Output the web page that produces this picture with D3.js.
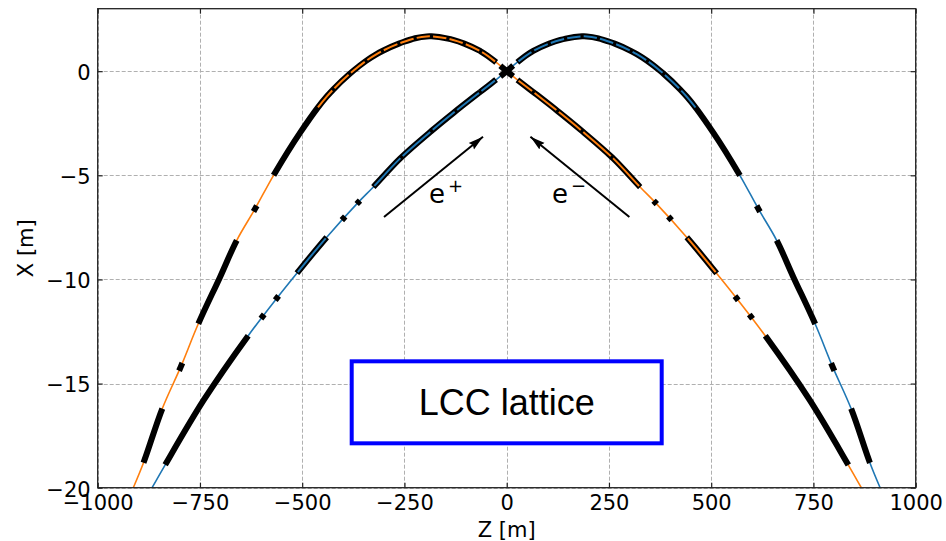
<!DOCTYPE html>
<html>
<head>
<meta charset="utf-8">
<script src="https://cdn.jsdelivr.net/npm/d3@7"></script>
<style>
body { margin: 0; background: #fff; }
svg { display: block; }
</style>
</head>
<body>
<script>
// Constants

const width = 946;
const height = 541;
const margin = { top: 8.7, right: 30.3, bottom: 53.3, left: 97.7 };
const font = "'DejaVu Sans', sans-serif";

// Beam orbits, Z [m] -> X [m]

const blueZ = [-867, -835, -741, -632, -562, -513, -440, -363, -326, -261, -187, -130, -65, -24, 0,
	24, 65, 131, 196, 253, 318, 375, 440, 505, 570, 615, 660, 701, 754, 797, 842, 888, 913];
const blueX = [-20, -18.9, -15.8, -12.7, -10.9, -9.7, -7.97, -6.3, -5.56, -4.2, -2.92, -2.0, -1.0, -0.38, 0,
	0.4, 0.97, 1.5, 1.67, 1.4, 0.82, 0.02, -1.22, -2.95, -5.0, -6.6, -8.12, -9.89, -12.13, -14.2, -16.2, -18.8, -20];

const orangeZ = [-913, -888, -842, -797, -754, -701, -660, -615, -570, -505, -440, -375, -318, -253, -196, -131, -65, -24, 0,
	24, 65, 130, 187, 261, 326, 363, 440, 513, 562, 632, 741, 835, 867];
const orangeX = [-20, -18.8, -16.2, -14.2, -12.13, -9.89, -8.12, -6.6, -5.0, -2.95, -1.22, 0.02, 0.82, 1.4, 1.67, 1.5, 0.97, 0.4, 0,
	-0.38, -1.0, -2.0, -2.92, -4.2, -5.56, -6.3, -7.97, -9.7, -10.9, -12.7, -15.8, -18.9, -20];

// Magnet extents along Z [m]

const blueSolid = [[-835, -632], [-601, -593], [-566, -558], [-403, -395], [-367, -359], [-16, 16],
	[464, 570], [611, 619], [660, 754], [793, 801], [842, 888]];
const blueCored = [[-513, -440], [-326, -257], [-257, -184], [-184, -124], [-124, -65], [-65, -26],
	[26, 64], [64, 104], [104, 144], [144, 184], [184, 224], [224, 264], [264, 304], [304, 344],
	[344, 384], [384, 424], [424, 464]];

const orangeSolid = [[-888, -842], [-801, -793], [-754, -660], [-619, -611], [-570, -464], [-16, 16],
	[359, 367], [395, 403], [558, 566], [593, 601], [632, 835]];
const orangeCored = [[-464, -424], [-424, -384], [-384, -344], [-344, -304], [-304, -264], [-264, -224],
	[-224, -184], [-184, -144], [-144, -104], [-104, -64], [-64, -26],
	[26, 65], [65, 124], [124, 184], [184, 257], [257, 326], [440, 513]];

const xTicks = [-1000, -750, -500, -250, 0, 250, 500, 750, 1000];
const yTicks = [0, -5, -10, -15, -20];

const arrowFrom = [[-300, -7], [300, -7]];
const arrowTo = [[-58, -3.15], [58, -3.15]];
const beamLabels = ['e', 'e'];
const beamSigns = ['+', '\u2212'];
const labelPos = [[-190, -6.35], [111, -6.35]];

const boxText = 'LCC lattice';
const boxPos = [0, -15.9];

const blue = '#1f77b4';
const orange = '#ff7f0e';

// Setup plot

const x = d3.scaleLinear()
	.domain([-1000, 1000])
	.range([margin.left, width - margin.right]);

const y = d3.scaleLinear()
	.domain([-20, 3])
	.range([height - margin.bottom, margin.top]);

const svg = d3.select('body')
	.append('svg')
	.attr('width', width)
	.attr('height', height)
	.attr('font-family', font);

svg.append('defs')
	.append('marker')
	.attr('id', 'head')
	.attr('markerUnits', 'userSpaceOnUse')
	.attr('markerWidth', 16)
	.attr('markerHeight', 10)
	.attr('refX', 15)
	.attr('refY', 5)
	.attr('orient', 'auto')
	.append('path')
	.attr('d', 'M0,0.8 L15,5 L0,9.2 L2,5 Z')
	.attr('fill', '#000');

// grid

const grid = svg.append('g')
	.attr('stroke', '#b0b0b0')
	.attr('stroke-width', 1)
	.attr('stroke-dasharray', '4,2');

grid.selectAll('.gx')
	.data(xTicks)
	.join('line')
	.attr('x1', (d) => Math.round(x(d)) + 0.5)
	.attr('x2', (d) => Math.round(x(d)) + 0.5)
	.attr('y1', margin.top)
	.attr('y2', height - margin.bottom);

grid.selectAll('.gy')
	.data(yTicks)
	.join('line')
	.attr('class', 'gy')
	.attr('y1', (d) => Math.round(y(d)) + 0.5)
	.attr('y2', (d) => Math.round(y(d)) + 0.5)
	.attr('x1', margin.left)
	.attr('x2', width - margin.right);

// orbits

const line = d3.line()
	.x((d) => x(d[0]))
	.y((d) => y(d[1]))
	.curve(d3.curveCatmullRom.alpha(0.5));

const rings = [
	{ pts: d3.zip(blueZ, blueX), color: blue, solid: blueSolid, cored: blueCored },
	{ pts: d3.zip(orangeZ, orangeX), color: orange, solid: orangeSolid, cored: orangeCored },
];

const orbits = svg.append('g').attr('fill', 'none');

rings.forEach((r) => {
	r.path = orbits.append('path')
		.attr('d', line(r.pts))
		.attr('stroke', r.color)
		.attr('stroke-width', 1.6)
		.node();
});

function lengthAt(path, z) {
	const target = x(z);
	let lo = 0;
	let hi = path.getTotalLength();
	for (let i = 0; i < 30; i++) {
		const mid = (lo + hi) / 2;
		if (path.getPointAtLength(mid).x < target) lo = mid;
		else hi = mid;
	}
	return lo;
}

function dashes(path, ranges, inset) {
	const total = path.getTotalLength();
	const arr = [0];
	let pos = 0;
	ranges
		.slice()
		.sort((a, b) => a[0] - b[0])
		.forEach(([z0, z1]) => {
			const a = lengthAt(path, z0) + inset;
			const b = lengthAt(path, z1) - inset;
			arr.push(Math.max(0, a - pos), Math.max(0, b - a));
			pos = b;
		});
	arr.push(total - pos + 10);
	return arr.map((v) => v.toFixed(2)).join(',');
}

const magnets = svg.append('g').attr('fill', 'none').attr('stroke-linecap', 'butt');

rings.forEach((r) => {
	const d = d3.select(r.path).attr('d');
	magnets.append('path')
		.attr('d', d)
		.attr('stroke', '#000')
		.attr('stroke-width', 6)
		.attr('stroke-dasharray', dashes(r.path, r.solid.concat(r.cored), 0));
});

rings.forEach((r) => {
	const d = d3.select(r.path).attr('d');
	magnets.append('path')
		.attr('d', d)
		.attr('stroke', r.color)
		.attr('stroke-width', 2)
		.attr('stroke-dasharray', dashes(r.path, r.cored, 1.6));
});

// arrows and labels

svg.append('g')
	.selectAll('line')
	.data(d3.zip(arrowFrom, arrowTo))
	.join('line')
	.attr('x1', (d) => x(d[0][0]))
	.attr('y1', (d) => y(d[0][1]))
	.attr('x2', (d) => x(d[1][0]))
	.attr('y2', (d) => y(d[1][1]))
	.attr('stroke', '#000')
	.attr('stroke-width', 2)
	.attr('marker-end', 'url(#head)');

const lbl = svg.append('g')
	.selectAll('text')
	.data(d3.zip(beamLabels, beamSigns, labelPos))
	.join('text')
	.attr('x', (d) => x(d[2][0]))
	.attr('y', (d) => y(d[2][1]))
	.attr('font-size', 26)
	.attr('fill', '#000');

lbl.append('tspan').text((d) => d[0]);
lbl.append('tspan')
	.attr('dx', 3)
	.attr('dy', -11)
	.attr('font-size', 18)
	.text((d) => d[1]);

// LCC lattice box

const bx = x(boxPos[0]);
const by = y(boxPos[1]);

svg.append('rect')
	.attr('x', bx - 155)
	.attr('y', by - 41)
	.attr('width', 310)
	.attr('height', 82)
	.attr('fill', '#fff')
	.attr('stroke', '#0000ff')
	.attr('stroke-width', 4);

svg.append('text')
	.attr('x', bx)
	.attr('y', by + 13)
	.attr('text-anchor', 'middle')
	.attr('font-family', "'Liberation Sans', Arial, sans-serif")
	.attr('font-size', 36)
	.text(boxText);

// axes frame and inward ticks

const axisColor = '#222';
const fmt = (d) => d3.format('d')(d).replace('-', '\u2212');

const styleAxis = (g) => g
	.attr('font-family', font)
	.attr('font-size', 21)
	.call((g) => g.select('.domain').remove())
	.call((g) => g.selectAll('text').attr('fill', '#000'))
	.call((g) => g.selectAll('line').attr('stroke', axisColor).attr('stroke-width', 1.2));

const xAxis = (g) => g
	.attr('transform', `translate(0,${height - margin.bottom})`)
	.call(d3.axisBottom(x).tickValues(xTicks).tickSizeInner(-5).tickSizeOuter(0).tickPadding(7).tickFormat(fmt))
	.call(styleAxis);

const xTop = (g) => g
	.attr('transform', `translate(0,${margin.top})`)
	.call(d3.axisTop(x).tickValues(xTicks).tickSizeInner(-5).tickSizeOuter(0).tickFormat(''))
	.call(styleAxis);

const yAxis = (g) => g
	.attr('transform', `translate(${margin.left},0)`)
	.call(d3.axisLeft(y).tickValues(yTicks).tickSizeInner(-5).tickSizeOuter(0).tickPadding(7).tickFormat(fmt))
	.call(styleAxis)
	.call((g) => g.selectAll('text').attr('dy', '0.4em'));

const yRight = (g) => g
	.attr('transform', `translate(${width - margin.right},0)`)
	.call(d3.axisRight(y).tickValues(yTicks).tickSizeInner(-5).tickSizeOuter(0).tickFormat(''))
	.call(styleAxis);

svg.append('g').call(xAxis);
svg.append('g').call(xTop);
svg.append('g').call(yAxis);
svg.append('g').call(yRight);

svg.append('rect')
	.attr('x', margin.left)
	.attr('y', margin.top)
	.attr('width', width - margin.left - margin.right)
	.attr('height', height - margin.top - margin.bottom)
	.attr('fill', 'none')
	.attr('stroke', axisColor)
	.attr('stroke-width', 1.3);

svg.append('text')
	.attr('x', x(0))
	.attr('y', 536.5)
	.attr('text-anchor', 'middle')
	.attr('font-size', 21)
	.text('Z [m]');

svg.append('text')
	.attr('transform', `translate(33,${y(-8.5)}) rotate(-90)`)
	.attr('text-anchor', 'middle')
	.attr('font-size', 21)
	.text('X [m]');
</script>
</body>
</html>
